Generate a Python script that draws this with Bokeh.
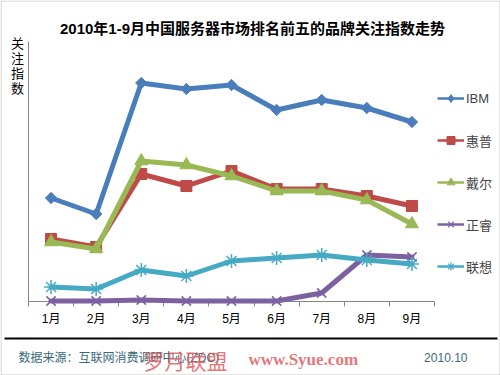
from bokeh.plotting import figure
from bokeh.models import (Range1d, FixedTicker, Label, Legend, LegendItem, BoxAnnotation)
from bokeh.embed import file_html
from bokeh.resources import INLINE

months = ["1月", "2月", "3月", "4月", "5月", "6月", "7月", "8月", "9月"]
ibm = [103, 87, 218, 212, 216, 191, 201, 193, 179]
hp = [62, 54, 127, 115, 130, 112, 112, 105, 95]
dell = [59, 52, 140, 136, 125, 110, 110, 101, 77]
zhengrui = [0, 0, 1, 0, 0, 0, 8, 46, 44]
lenovo = [14, 12, 31, 25, 40, 43, 46, 41, 37]

series = [
    ("IBM", ibm, "#4A7EBB", "square", 8, 0.785398, 0, "diamond"),
    ("惠普", hp, "#BE4B48", "square", 11, 0, 0, "square"),
    ("戴尔", dell, "#98B954", "triangle", 13, 0, 0, "triangle"),
    ("正睿", zhengrui, "#7D60A0", "x", 13, 0, 1.5, "x"),
    ("联想", lenovo, "#46AAC5", "asterisk", 14, 0, 1.5, "asterisk"),
]

FONT = "Liberation Sans, Noto Sans CJK SC"
W, H = 500, 375
# plot area: x 0..9 spans canvas px 28..434, y value 0 at canvas px 300.5, 1 unit per px
ppx = 406 / 9.0
x0 = -28 / ppx
x1 = 9 + (W - 434) / ppx
y1 = 300.5
y0 = -(H - 300.5)

p = figure(width=W, height=H, output_backend="svg", toolbar_location=None,
           x_range=Range1d(x0, x1), y_range=Range1d(y0, y1),
           min_border_left=0, min_border_right=0, min_border_top=0, min_border_bottom=0)
p.outline_line_color = None
p.xgrid.visible = False
p.ygrid.visible = False
p.background_fill_color = "white"
p.border_fill_color = "white"

xs = [i + 0.5 for i in range(len(months))]

xa = p.xaxis[0]
xa.fixed_location = 0
xa.bounds = (0, 9)
xa.ticker = FixedTicker(ticks=xs, minor_ticks=list(range(len(months) + 1)))
xa.major_label_overrides = {x: m for x, m in zip(xs, months)}
xa.axis_line_color = "#868686"
xa.major_tick_line_color = None
xa.major_tick_out = 5
xa.major_tick_in = 0
xa.minor_tick_line_color = "#868686"
xa.minor_tick_in = 0
xa.minor_tick_out = 5
xa.major_label_standoff = 6
xa.major_label_text_font = FONT
xa.major_label_text_font_size = "12px"
xa.major_label_text_color = "#000000"

ya = p.yaxis[0]
ya.fixed_location = 0
ya.bounds = (0, 260)
ya.ticker = FixedTicker(ticks=[])
ya.axis_line_color = "#868686"
ya.major_tick_line_color = None
ya.minor_tick_line_color = None
ya.major_label_text_font_size = "0px"

items = []
for name, vals, color, marker, size, angle, lw, lmarker in series:
    # thin line + small marker (hidden under the main ones) that supply the legend glyphs
    dl = p.line(xs, vals, line_color=color, line_width=2.5)
    if lmarker in ("x", "asterisk"):
        dm = p.scatter(xs, vals, marker=lmarker, size=4, line_color=color, line_width=1.2)
    else:
        dm = p.scatter(xs, vals, marker=lmarker, size=4, fill_color=color, line_color=color)
    items.append(LegendItem(label=name, renderers=[dl, dm]))

for name, vals, color, marker, size, angle, lw, lmarker in series:
    p.line(xs, vals, line_color=color, line_width=5, line_join="round", line_cap="round",
           level="overlay")
    if marker in ("x", "asterisk"):
        p.scatter(xs, vals, marker=marker, size=size, line_color=color, line_width=lw,
                  level="overlay")
    else:
        p.scatter(xs, vals, marker=marker, size=size, angle=angle, fill_color=color,
                  line_color=color, level="overlay")

legend = Legend(items=items, location=(437, 99), padding=0, margin=0, spacing=22,
                glyph_width=27, glyph_height=20, label_height=20, label_standoff=2,
                label_text_font=FONT, label_text_font_size="13px",
                background_fill_alpha=0, border_line_alpha=0)
p.add_layout(legend, "center")

p.add_layout(Label(x=252, y=347, x_units="screen", y_units="screen",
                   text="2010年1-9月中国服务器市场排名前五的品牌关注指数走势",
                   text_align="center", text_baseline="middle", text_font=FONT,
                   text_font_size="15px", text_font_style="bold", text_color="#000000"))

for i, ch in enumerate("关注指数"):
    p.add_layout(Label(x=17, y=332 - 15 * i, x_units="screen", y_units="screen", text=ch,
                       text_align="center", text_baseline="middle", text_font=FONT,
                       text_font_size="13px", text_color="#000000"))

p.add_layout(BoxAnnotation(left=4, right=497, top=38, bottom=36,
                           left_units="screen", right_units="screen",
                           top_units="screen", bottom_units="screen",
                           fill_color="#000000", fill_alpha=1, line_color=None))
p.add_layout(BoxAnnotation(left=0.5, right=W - 0.5, top=H - 0.5, bottom=0.5,
                           left_units="screen", right_units="screen",
                           top_units="screen", bottom_units="screen",
                           fill_alpha=0, line_color="#505050", line_width=1))

p.add_layout(Label(x=18, y=18, x_units="screen", y_units="screen",
                   text="数据来源：互联网消费调研中心(ZDC)", text_align="left",
                   text_baseline="middle", text_font=FONT, text_font_size="12px",
                   text_color="#3A6A7A"))
p.add_layout(Label(x=467, y=18, x_units="screen", y_units="screen",
                   text="2010.10", text_align="right",
                   text_baseline="middle", text_font=FONT, text_font_size="12px",
                   text_color="#3A6A7A"))

# site watermark stamped over the footer
p.add_layout(Label(x=143, y=16, x_units="screen", y_units="screen",
                   text="罗月联盟", text_align="left", text_baseline="middle",
                   text_font="Noto Sans CJK SC", text_font_size="21px",
                   text_color="#E06060", text_alpha=0.85))
p.add_layout(Label(x=248, y=16, x_units="screen", y_units="screen",
                   text="www.Syue.com", text_align="left", text_baseline="middle",
                   text_font="Liberation Serif", text_font_size="17px", text_font_style="bold",
                   text_color="#E06060", text_alpha=0.85))

open("out.html", "w").write(file_html(p, INLINE))
